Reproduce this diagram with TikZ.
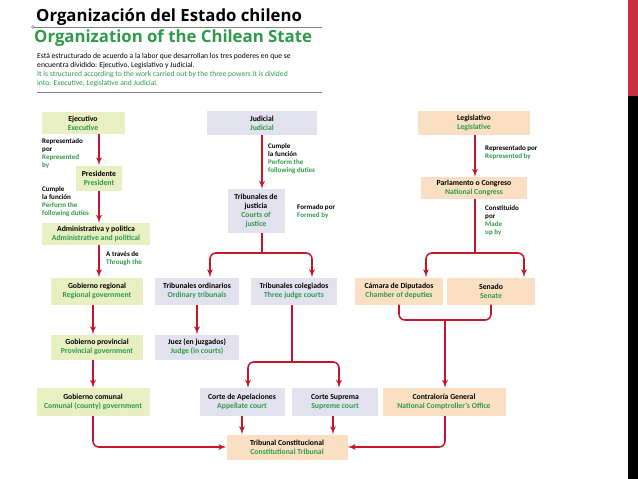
\documentclass[tikz,border=0pt]{standalone}
\usepackage{fontspec}
\setmainfont{Carlito}
\newfontfamily\headfont{Open Sans}
\usepackage{tikz}
\usetikzlibrary{arrows, positioning}
\definecolor{engreen}{HTML}{2E9B4A}
\definecolor{arrowred}{HTML}{C4172C}
\definecolor{exefill}{HTML}{E8EFC3}
\definecolor{judfill}{HTML}{E2E2EE}
\definecolor{legfill}{HTML}{FADFC2}
\newcommand{\es}[1]{{\bfseries #1}}
\newcommand{\en}[1]{{\bfseries\color{engreen}#1}}
\tikzset{
	orgbox/.style={inner sep=0pt, align=center, minimum height=#1*0.03cm, font=\fontsize{6.6pt}{7.5pt}\selectfont},
	exebox/.style={orgbox=#1, fill=exefill},
	judbox/.style={orgbox=#1, fill=judfill},
	legbox/.style={orgbox=#1, fill=legfill},
	link/.style={draw=arrowred, line width=1.3pt, -latex', rounded corners=5pt},
	bar/.style={draw=arrowred, line width=1.3pt, rounded corners=5pt},
	note/.style={anchor=north west, align=left, inner sep=0pt, font=\fontsize{6pt}{6.9pt}\selectfont}
}
\begin{document}
\begin{tikzpicture}[x=0.03cm, y=-0.03cm]
		\useasboundingbox (0,0) rectangle (638,479);
		\fill [white] (0,0) rectangle (638,479);
		\fill [arrowred!90] (628,0) rectangle (638,96);
		\fill [black] (628,96) rectangle (638,479);
		% header
		\node [anchor=west, inner sep=0pt, font=\headfont\bfseries\fontsize{14.3pt}{15pt}\selectfont] (title) at (36,17) {Organización del Estado chileno};
		\node [anchor=west, inner sep=0pt, font=\headfont\bfseries\fontsize{14.3pt}{15pt}\selectfont, text=engreen] (entitle) at (34,38) {Organization of the Chilean State};
		\draw [gray, thick] (34,27) -- (322,27);
		\draw [gray] (33,27) circle (1.5);
		\node [anchor=north west, align=left, inner sep=0pt, font=\fontsize{6.5pt}{7.6pt}\selectfont] (intro) at (37,53) {Está estructurado de acuerdo a la labor que desarrollan los tres poderes en que se\\encuentra dividido: Ejecutivo, Legislativo y Judicial.\\\color{engreen}It is structured according to the work carried out by the three powers it is divided\\\color{engreen}into: Executive, Legislative and Judicial.};
		\draw [gray, thick] (37,92) -- (322,92);
		% executive
		\node [exebox=22, minimum width=83*0.03cm] (ejecutivo) at (83,123) {\es{Ejecutivo}\\\en{Executive}};
		\node [exebox=25, minimum width=46*0.03cm] (presidente) at (99,178) {\es{Presidente}\\\en{President}};
		\node [exebox=22, minimum width=108*0.03cm] (admin) at (96,234) {\es{Administrativa y politica}\\\en{Administrative and political}};
		\node [exebox=27, minimum width=92*0.03cm] (regional) at (97,291) {\es{Gobierno regional}\\\en{Regional government}};
		\node [exebox=25, minimum width=92*0.03cm] (provincial) at (97,347) {\es{Gobierno provincial}\\\en{Provincial government}};
		\node [exebox=28, minimum width=113*0.03cm] (comunal) at (93,402) {\es{Gobierno comunal}\\\en{Comunal (county) government}};
		% judicial
		\node [judbox=23, minimum width=110*0.03cm] (judicial) at (262,123) {\es{Judicial}\\\en{Judicial}};
		\node [judbox=44, minimum width=57*0.03cm] (justicia) at (256,211) {\es{Tribunales de}\\\es{justicia}\\\en{Courts of}\\\en{justice}};
		\node [judbox=27, minimum width=84*0.03cm] (ordinarios) at (197,291) {\es{Tribunales ordinarios}\\\en{Ordinary tribunals}};
		\node [judbox=27, minimum width=86*0.03cm] (colegiados) at (294,291) {\es{Tribunales colegiados}\\\en{Three judge courts}};
		\node [judbox=25, minimum width=84*0.03cm] (juez) at (197,347) {\es{Juez (en juzgados)}\\\en{Judge (in courts)}};
		\node [judbox=28, minimum width=85*0.03cm] (apelaciones) at (242,402) {\es{Corte de Apelaciones}\\\en{Appellate court}};
		\node [judbox=28, minimum width=86*0.03cm] (suprema) at (335,402) {\es{Corte Suprema}\\\en{Supreme court}};
		% legislative
		\node [legbox=23, minimum width=112*0.03cm] (legislativo) at (474,123) {\es{Legislativo}\\\en{Legislative}};
		\node [legbox=22, minimum width=106*0.03cm] (congreso) at (474,188) {\es{Parlamento o Congreso}\\\en{National Congress}};
		\node [legbox=27, minimum width=88*0.03cm] (diputados) at (399,291) {\es{Cámara de Diputados}\\\en{Chamber of deputies}};
		\node [legbox=27, minimum width=88*0.03cm] (senado) at (491,291) {\es{Senado}\\\en{Senate}};
		\node [legbox=28, minimum width=123*0.03cm] (contraloria) at (444,402) {\es{Contraloría General}\\\en{National Comptroller's Office}};
		\node [legbox=25, minimum width=121*0.03cm] (constitucional) at (287,447) {\es{Tribunal Constitucional}\\\en{Constitutional Tribunal}};
		% labels
		\node [note] (repexe) at (42,138) {\es{Representado}\\\es{por}\\\en{Represented}\\\en{by}};
		\node [note] (cumpleexe) at (42,186) {\es{Cumple}\\\es{la función}\\\en{Perform the}\\\en{following duties}};
		\node [note] (traves) at (106,251) {\es{A través de}\\\en{Through the}};
		\node [note] (cumplejud) at (268,143) {\es{Cumple}\\\es{la función}\\\en{Perform the}\\\en{following duties}};
		\node [note] (formado) at (297,204) {\es{Formado por}\\\en{Formed by}};
		\node [note] (repleg) at (485,145) {\es{Representado por}\\\en{Represented by}};
		\node [note] (constituido) at (485,205) {\es{Constituido}\\\es{por}\\\en{Made}\\\en{up by}};
		% connectors
		\coordinate (jsplit) at (262,253);
		\coordinate (csplit) at (292,362);
		\coordinate (lsplit) at (475,253);
		\coordinate (lmerge) at (445,320);
		\coordinate (supdrop) at (333,416);
		\path [link] (ejecutivo.south -| presidente) -- (presidente.north);
		\path [link] (presidente.south) -- (admin.north -| presidente);
		\path [link] (admin.south -| presidente) -- (regional.north -| presidente);
		\path [link] (regional.south -| comunal) -- (provincial.north -| comunal);
		\path [link] (provincial.south -| comunal) -- (comunal.north);
		\path [link] (comunal.south) |- (constitucional.west);
		\path [link] (judicial.south) -- (justicia.north -| judicial);
		\path [bar] (justicia.south -| judicial) -- (jsplit);
		\path [link] (jsplit) -| ([xshift=13*0.03cm]ordinarios.north);
		\path [link] (jsplit) -| ([xshift=18*0.03cm]colegiados.north);
		\path [link] (ordinarios.south) -- (juez.north);
		\path [bar] (colegiados.south -| csplit) -- (csplit);
		\path [link] (csplit) -| ([xshift=6*0.03cm]apelaciones.north);
		\path [link] (csplit) -| ([xshift=4*0.03cm]suprema.north);
		\path [link] (apelaciones.south) -- (constitucional.north -| apelaciones);
		\path [link] (supdrop) -- (constitucional.north -| supdrop);
		\path [link] (legislativo.south -| lsplit) -- (congreso.north -| lsplit);
		\path [bar] (congreso.south -| lsplit) -- (lsplit);
		\path [link] (lsplit) -| ([xshift=27*0.03cm]diputados.north);
		\path [link] (lsplit) -| ([xshift=33*0.03cm]senado.north);
		\path [bar] (diputados.south) |- (lmerge) -| (senado.south);
		\path [link] (lmerge) -- (contraloria.north -| lmerge);
		\path [link] (contraloria.south -| lmerge) |- (constitucional.east);
	\end{tikzpicture}
\end{document}
